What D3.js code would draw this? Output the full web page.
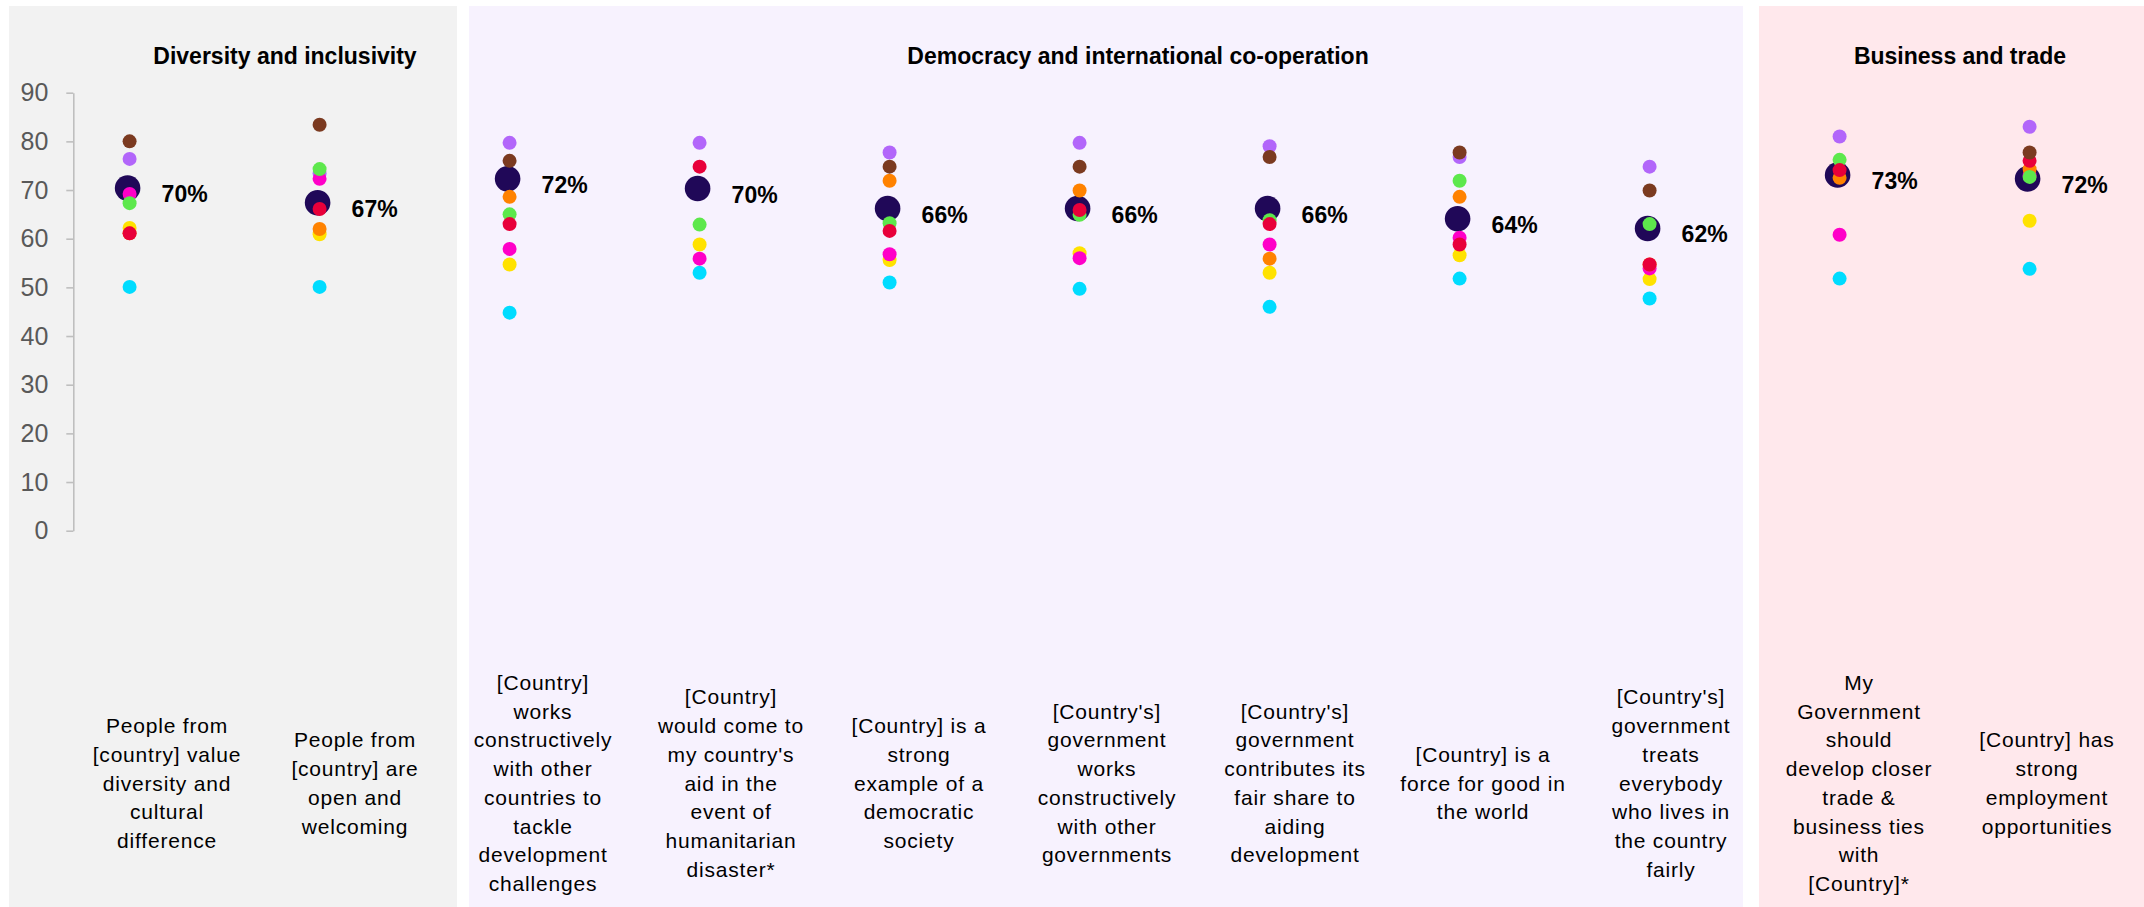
<!DOCTYPE html>
<html>
<head>
<meta charset="utf-8">
<script src="https://cdn.jsdelivr.net/npm/d3@7"></script>
<style>
  body { margin: 0; background: #fff; }
  text { font-family: "Liberation Sans", Arial, sans-serif; }
</style>
</head>
<body>
<div id="chart"></div>
<script>
var svgWidth = 2144;
var svgHeight = 907;

// Statements (x categories), split the way they wrap in the chart
var categories = [
  ["People from", "[country] value", "diversity and", "cultural", "difference"],
  ["People from", "[country] are", "open and", "welcoming"],
  ["[Country]", "works", "constructively", "with other", "countries to", "tackle", "development", "challenges"],
  ["[Country]", "would come to", "my country's", "aid in the", "event of", "humanitarian", "disaster*"],
  ["[Country] is a", "strong", "example of a", "democratic", "society"],
  ["[Country's]", "government", "works", "constructively", "with other", "governments"],
  ["[Country's]", "government", "contributes its", "fair share to", "aiding", "development"],
  ["[Country] is a", "force for good in", "the world"],
  ["[Country's]", "government", "treats", "everybody", "who lives in", "the country", "fairly"],
  ["My", "Government", "should", "develop closer", "trade &", "business ties", "with", "[Country]*"],
  ["[Country] has", "strong", "employment", "opportunities"]
];

var groupNames = ["Diversity and inclusivity", "Democracy and international co-operation", "Business and trade"];
var groupOf = [0, 0, 1, 1, 1, 1, 1, 1, 1, 2, 2];

// Average across countries (big dot + label)
var average = [70.4, 67.4, 72.3, 70.3, 66.2, 66.2, 66.2, 64.1, 62.1, 73.1, 72.3];

// One series per country (null = not asked)
var purple  = [76.4, 73.4, 79.7, 79.7, 77.7, 79.7, 79.0, 76.8, 74.8, 81.0, 83.0];
var cyan    = [50.1, 50.1, 44.8, 53.0, 51.0, 49.7, 46.0, 51.8, 47.7, 51.8, 53.8];
var yellow  = [62.2, 60.9, 54.7, 58.8, 55.6, 57.0, 53.0, 56.6, 51.7, null, 63.7];
var magenta = [69.2, 72.3, 57.9, 55.9, 56.8, 56.0, 58.8, 60.2, 53.9, 60.8, 73.0];
var orange  = [61.1, 62.0, 68.6, null, 71.9, 69.9, 55.9, 68.6, 54.7, 72.5, 74.3];
var green   = [67.3, 74.3, 65.0, 62.9, 63.2, 64.9, 63.8, 71.9, 63.0, 76.2, 72.7];
var red     = [61.1, 66.1, 63.0, 74.8, 61.6, 65.9, 63.0, 58.8, 54.7, 74.1, 76.0];
var brown   = [80.0, 83.4, 76.0, null, 74.8, 74.8, 76.8, 77.7, 69.9, null, 77.7];

var yTicks = [0, 10, 20, 30, 40, 50, 60, 70, 80, 90];

// series in drawing order, with their colours
var series = [
  {values: purple,  color: "#b266fa"},
  {values: cyan,    color: "#00dcff"},
  {values: yellow,  color: "#ffe200"},
  {values: magenta, color: "#ff00c8"},
  {values: orange,  color: "#ff8200"},
  {values: green,   color: "#5de84c"},
  {values: red,     color: "#e8003a"},
  {values: brown,   color: "#7b3a20"}
];

// panel backgrounds behind each group
var panels = [
  {x0: 9,   x1: 457,  fill: "#f2f2f2", titleX: 285},
  {x0: 469, x1: 1743, fill: "#f7f2fe", titleX: 1138},
  {x0: 1759, x1: 2144, fill: "#ffe8ec", titleX: 1960}
];

var svg = d3.select("#chart")
  .append("svg")
  .attr("width", svgWidth)
  .attr("height", svgHeight);

svg.selectAll("rect.panel")
  .data(panels)
  .enter()
  .append("rect")
  .attr("class", "panel")
  .attr("x", d => d.x0)
  .attr("y", 6)
  .attr("width", d => d.x1 - d.x0)
  .attr("height", svgHeight - 6)
  .attr("fill", d => d.fill);

svg.selectAll("text.group")
  .data(panels)
  .enter()
  .append("text")
  .attr("class", "group")
  .attr("x", d => d.titleX)
  .attr("y", 64)
  .attr("text-anchor", "middle")
  .attr("font-size", "23px")
  .attr("font-weight", "bold")
  .attr("fill", "#000")
  .text((d, i) => groupNames[i]);

// scales
var yScale = d3.scaleLinear()
  .domain([0, 90])
  .range([530.7, 92.7]);

var xDot = d3.scalePoint()
  .domain(d3.range(categories.length))
  .range([129.6, 2029.6]);

var xLabel = d3.scaleBand()
  .domain(d3.range(categories.length))
  .range([73, 2141]);

// y axis
var leftAxis = d3.axisLeft(yScale)
  .tickValues(yTicks)
  .tickSize(7)
  .tickSizeOuter(0)
  .tickPadding(18);

var axisG = svg.append("g")
  .attr("transform", "translate(73.3, 0)")
  .call(leftAxis);

axisG.select(".domain").attr("stroke", "#bfbfbf").attr("stroke-width", 1.6);
axisG.selectAll(".tick line").attr("stroke", "#bfbfbf").attr("stroke-width", 1.6);
axisG.selectAll(".tick text")
  .attr("fill", "#595959")
  .attr("font-size", "25px")
  .attr("font-family", "'Liberation Sans', Arial, sans-serif");

// average dots first, country dots on top
svg.append("g")
  .selectAll("circle")
  .data(average)
  .enter()
  .append("circle")
  .attr("cx", (d, i) => xDot(i) - 2)
  .attr("cy", d => yScale(d))
  .attr("r", 12.8)
  .attr("fill", "#200858");

series.forEach(function(s) {
  svg.append("g")
    .selectAll("circle")
    .data(s.values.map((v, i) => ({v: v, i: i})).filter(d => d.v !== null))
    .enter()
    .append("circle")
    .attr("cx", d => xDot(d.i))
    .attr("cy", d => yScale(d.v))
    .attr("r", 7)
    .attr("fill", s.color);
});

// average labels
svg.append("g")
  .selectAll("text")
  .data(average)
  .enter()
  .append("text")
  .attr("x", (d, i) => xDot(i) + 32)
  .attr("y", d => yScale(d) + 14)
  .attr("font-size", "23px")
  .attr("font-weight", "bold")
  .attr("fill", "#000")
  .text(d => Math.round(d) + "%");

// category labels, wrapped and centred vertically
var lineH = 28.7;
var labelG = svg.append("g")
  .selectAll("text")
  .data(categories)
  .enter()
  .append("text")
  .attr("text-anchor", "middle")
  .attr("font-size", "21px")
  .attr("letter-spacing", "0.8px")
  .attr("fill", "#000");

labelG.each(function(lines, i) {
  var t = d3.select(this);
  var cx = xLabel(i) + xLabel.bandwidth() / 2;
  lines.forEach(function(line, k) {
    t.append("tspan")
      .attr("x", cx)
      .attr("y", 783 + (k - (lines.length - 1) / 2) * lineH)
      .attr("dominant-baseline", "central")
      .text(line);
  });
});
</script>
</body>
</html>
